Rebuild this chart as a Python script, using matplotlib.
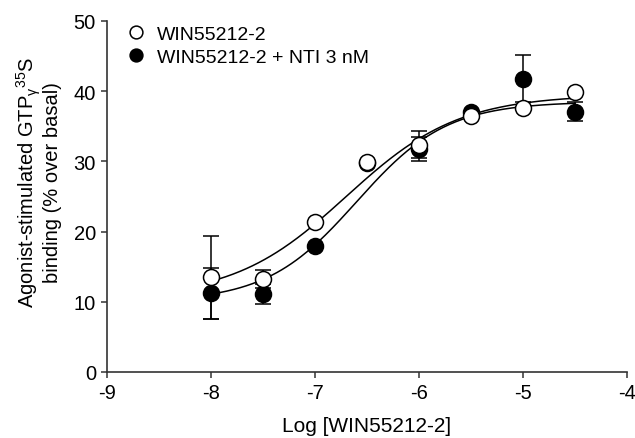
import matplotlib
matplotlib.use("Agg")
import matplotlib.pyplot as plt
import numpy as np

plt.rcParams["font.family"] = ["Liberation Sans", "DejaVu Sans"]
plt.rcParams["mathtext.fontset"] = "custom"
plt.rcParams["mathtext.rm"] = "Liberation Sans"
plt.rcParams["axes.unicode_minus"] = False

# log concentrations
log_conc = [-8, -7.5, -7, -6.5, -6, -5.5, -5, -4.5]

# WIN55212-2 alone (open circles)
win = [13.5, 13.3, 21.3, 29.9, 32.4, 36.4, 37.6, 39.9]
win_err = [5.9, 1.3, 0, 0, 1.9, 0, 0, 0]

# WIN55212-2 + NTI 3 nM (filled circles)
win_nti = [11.2, 11.1, 17.9, 29.8, 31.8, 37.0, 41.8, 37.1]
win_nti_err = [3.6, 1.4, 0, 0, 1.7, 0, 3.3, 1.3]

# sigmoid fit parameters: bottom, top, logEC50, hill
fit_win = [10.5, 39.5, -6.7, 0.8]
fit_win_nti = [10.0, 38.5, -6.6, 1.0]

labels = ["WIN55212-2", "WIN55212-2 + NTI 3 nM"]


def sigmoid(x, p):
    b, t, ec, h = p
    return b + (t - b) / (1 + 10 ** ((ec - x) * h))


fig = plt.figure(figsize=(6.35, 4.39), dpi=100)
ax = fig.add_axes([107 / 635, 1 - 373 / 439, 520 / 635, 351 / 439])

xs = np.linspace(-8, -4.5, 300)
ax.plot(xs, sigmoid(xs, fit_win), color="black", lw=1.1, zorder=2)
ax.plot(xs, sigmoid(xs, fit_win_nti), color="black", lw=1.1, zorder=2)

for y, e in [(win, win_err), (win_nti, win_nti_err)]:
    x = np.array(log_conc)
    y = np.array(y)
    e = np.array(e)
    m = e > 0
    ax.errorbar(x[m], y[m], yerr=e[m], fmt="none", ecolor="black",
                elinewidth=1.1, capsize=6, capthick=1.1, zorder=3)

h2, = ax.plot(log_conc, win_nti, "o", ms=11.5, mfc="black", mec="black",
              mew=1.1, zorder=4, label=labels[1])
h1, = ax.plot(log_conc, win, "o", ms=11.5, mfc="white", mec="black",
              mew=1.1, zorder=5, label=labels[0])

ax.set_xlim(-9, -4)
ax.set_ylim(0, 50)
ax.set_xticks([-9, -8, -7, -6, -5, -4])
ax.set_yticks([0, 10, 20, 30, 40, 50])
for s in ["top", "right"]:
    ax.spines[s].set_visible(False)
for s in ["left", "bottom"]:
    ax.spines[s].set_color("#333333")
    ax.spines[s].set_linewidth(1.2)
ax.tick_params(direction="out", length=4, width=1.1, color="#333333",
               labelsize=14.5, pad=4)

ax.set_xlabel("Log [WIN55212-2]", fontsize=15, labelpad=10)
fig.text(0.06, 0.585,
         "Agonist-stimulated GTP$\\mathregular{_{\\gamma}{}^{35}}$S\nbinding (% over basal)",
         rotation=90, ha="center", va="center", fontsize=14.5,
         multialignment="center", linespacing=1.0)

ax.legend(handles=[h1, h2], loc="upper left", bbox_to_anchor=(126 / 635, 0.941),
          bbox_transform=fig.transFigure, frameon=False, fontsize=14,
          borderpad=0, borderaxespad=0, handlelength=1.0, handletextpad=0.6,
          labelspacing=0.28, markerscale=0.8)

fig.savefig("out.png", dpi=100)
